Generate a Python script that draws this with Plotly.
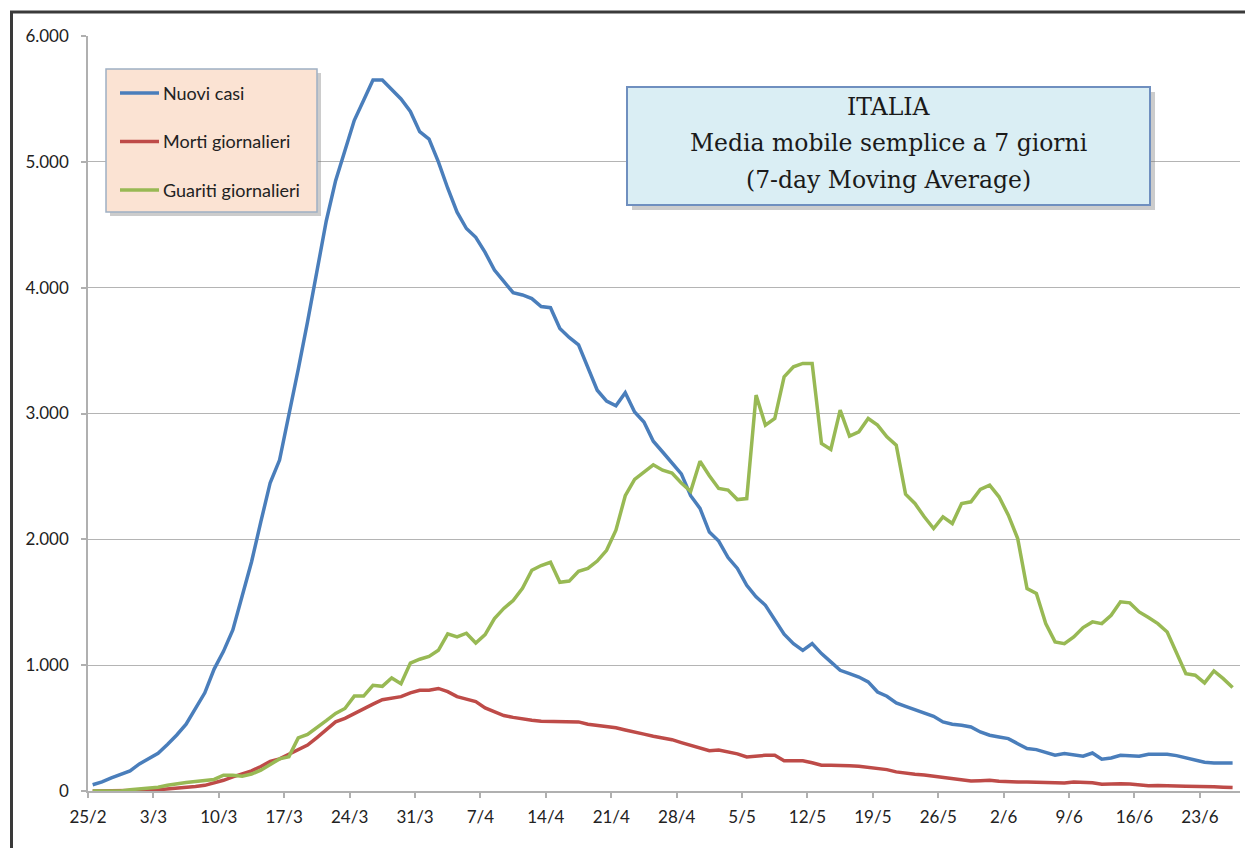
import pandas as pd
import plotly.graph_objects as go

# ---------------- data ----------------
START = "2020-02-25 12:00"
N_DAYS = 123

nuovi_casi = [50, 72, 105, 130, 160, 215, 258, 300, 370, 445,
              531, 650, 780, 969, 1110, 1280, 1540, 1820, 2140, 2450,
              2630, 2980, 3350, 3730, 4140, 4530, 4850, 5100, 5330, 5490,
              5650, 5650, 5570, 5500, 5400, 5240, 5180, 5000, 4790, 4600,
              4470, 4400, 4280, 4140, 4050, 3960, 3942, 3913, 3850, 3841,
              3676, 3604, 3546, 3358, 3185, 3098, 3061, 3165, 3012, 2933,
              2780, 2694, 2607, 2520, 2347, 2246, 2058, 1986, 1855, 1769,
              1635, 1543, 1476, 1357, 1246, 1171, 1118, 1171, 1092, 1026,
              959, 933, 906, 867, 787, 753, 700, 673, 647, 620,
              594, 549, 530, 522, 509, 469, 443, 429, 416, 376,
              337, 329, 310, 284, 297, 289, 276, 302, 252, 262,
              284, 281, 276, 292, 289, 292, 281, 262, 244, 228,
              223, 223, 223]

morti = [0, 0, 0, 0, 0, 2, 5, 10, 15, 20,
         25, 35, 45, 62, 85, 112, 135, 160, 195, 235,
         255, 290, 324, 365, 425, 490, 550, 578, 617, 650,
         690, 725, 740, 750, 780, 800, 800, 815, 790, 750,
         730, 710, 660, 630, 600, 585, 570, 562, 555, 555,
         552, 549, 549, 530, 522, 512, 503, 485, 465, 452,
         435, 420, 408, 385, 365, 345, 320, 325, 310, 295,
         270, 280, 284, 284, 240, 240, 240, 225, 205, 204,
         204, 200, 196, 186, 180, 170, 152, 140, 133, 128,
         118, 106, 95, 85, 80, 82, 85, 78, 72, 72,
         72, 70, 66, 65, 64, 72, 68, 66, 53, 56,
         58, 55, 50, 42, 44, 45, 40, 37, 37, 37,
         33, 30, 27]

guariti = [0, 0, 0, 0, 10, 15, 22, 30, 45, 58,
           68, 76, 82, 92, 125, 125, 118, 135, 165, 210,
           255, 273, 422, 449, 500, 559, 617, 656, 754, 754,
           840, 832, 898, 852, 1016, 1047, 1069, 1118, 1249, 1225,
           1254, 1176, 1243, 1370, 1451, 1514, 1610, 1754, 1792, 1818,
           1659, 1668, 1746, 1769, 1827, 1913, 2072, 2347, 2477, 2535,
           2592, 2549, 2526, 2448, 2382, 2621, 2506, 2404, 2391, 2316,
           2324, 3146, 2908, 2960, 3292, 3371, 3398, 3398, 2762, 2714,
           3027, 2820, 2854, 2960, 2908, 2815, 2748, 2359, 2285, 2179,
           2086, 2179, 2126, 2285, 2298, 2396, 2430, 2338, 2192, 2006,
           1609, 1569, 1330, 1185, 1171, 1224, 1299, 1344, 1330, 1397,
           1503, 1495, 1423, 1378, 1330, 1264, 1105, 933, 920, 859,
           954, 893, 822]

series_names = ["Nuovi casi", "Morti giornalieri", "Guariti giornalieri"]
series_colors = ["#4A7EBB", "#BE4B48", "#98B954"]

x_tick_dates = ["2020-02-25", "2020-03-03", "2020-03-10", "2020-03-17", "2020-03-24",
                "2020-03-31", "2020-04-07", "2020-04-14", "2020-04-21", "2020-04-28",
                "2020-05-05", "2020-05-12", "2020-05-19", "2020-05-26", "2020-06-02",
                "2020-06-09", "2020-06-16", "2020-06-23"]
x_tick_labels = ["25/2", "3/3", "10/3", "17/3", "24/3", "31/3", "7/4", "14/4", "21/4",
                 "28/4", "5/5", "12/5", "19/5", "26/5", "2/6", "9/6", "16/6", "23/6"]
y_tick_vals = [0, 1000, 2000, 3000, 4000, 5000, 6000]
y_tick_labels = ["0", "1.000", "2.000", "3.000", "4.000", "5.000", "6.000"]

title_lines = ["ITALIA", "Media mobile semplice a 7 giorni", "(7-day Moving Average)"]

# ---------------- figure ----------------
# the page body has an 8px margin, so the figure is 8px smaller and
# everything below is expressed in window pixels
BODY = 8
W, H = 1253 - BODY, 848 - BODY
PLOT_X0, PLOT_X1, PLOT_Y0, PLOT_Y1 = 88, 1240, 36, 791   # window px
L, T = PLOT_X0 - BODY, PLOT_Y0 - BODY
R, B = W - (PLOT_X1 - BODY), H - (PLOT_Y1 - BODY)
PW, PH = PLOT_X1 - PLOT_X0, PLOT_Y1 - PLOT_Y0


def px(x):
    return (x - PLOT_X0) / PW


def py(y):
    return (PLOT_Y1 - y) / PH


dates = pd.date_range(START, periods=N_DAYS, freq="D")

fig = go.Figure()
for name, vals, col in zip(series_names, [nuovi_casi, morti, guariti], series_colors):
    fig.add_trace(go.Scatter(x=dates, y=vals, mode="lines", name=name,
                             line=dict(color=col, width=3.5), showlegend=False))

shapes = []
annotations = []

# outer frame (right and bottom sides fall outside the picture)
shapes.append(dict(type="rect", xref="paper", yref="paper",
                   x0=px(11.5), x1=px(1275), y0=py(880), y1=py(12),
                   line=dict(color="#3a3a3a", width=3), fillcolor="rgba(0,0,0,0)", layer="above"))

# legend box with shadow
shapes.append(dict(type="rect", xref="paper", yref="paper",
                   x0=px(110), x1=px(321), y0=py(216), y1=py(73),
                   line=dict(width=0), fillcolor="rgba(110,110,110,0.35)", layer="above"))
shapes.append(dict(type="rect", xref="paper", yref="paper",
                   x0=px(106), x1=px(317), y0=py(212), y1=py(69),
                   line=dict(color="#9fb0c4", width=1.5), fillcolor="#FBE3D3", layer="above"))
for i, (name, col) in enumerate(zip(series_names, series_colors)):
    yy = 93 + i * 48.5
    shapes.append(dict(type="line", xref="paper", yref="paper",
                       x0=px(120), x1=px(159), y0=py(yy), y1=py(yy),
                       line=dict(color=col, width=3.5), layer="above"))
    annotations.append(dict(xref="paper", yref="paper", x=px(161), y=py(yy),
                            text=name, showarrow=False, xanchor="left", yanchor="middle",
                            font=dict(family="Lato", size=18, color="#222222")))

# title box with shadow
shapes.append(dict(type="rect", xref="paper", yref="paper",
                   x0=px(632), x1=px(1155), y0=py(210), y1=py(92),
                   line=dict(width=0), fillcolor="rgba(110,110,110,0.35)", layer="above"))
shapes.append(dict(type="rect", xref="paper", yref="paper",
                   x0=px(627), x1=px(1150), y0=py(205), y1=py(87),
                   line=dict(color="#6f8fbf", width=2), fillcolor="#DAEEF4", layer="above"))
for i, line in enumerate(title_lines):
    annotations.append(dict(xref="paper", yref="paper", x=px(888.5), y=py(107 + i * 36.5),
                            text=line, showarrow=False, xanchor="center", yanchor="middle",
                            font=dict(family="DejaVu Serif", size=23.5, color="#1a1a1a")))

fig.update_layout(
    width=W, height=H,
    margin=dict(l=L, r=R, t=T, b=B, pad=0),
    paper_bgcolor="white", plot_bgcolor="white",
    shapes=shapes, annotations=annotations,
    showlegend=False,
    xaxis=dict(type="date", range=["2020-02-25 00:00", "2020-06-27 07:00"],
               tickmode="array", tickvals=x_tick_dates, ticktext=x_tick_labels,
               showgrid=False, zeroline=False,
               showline=True, linecolor="#B0B0B0", linewidth=1.5,
               ticks="outside", ticklen=5, tickcolor="#B0B0B0", tickwidth=1.5,
               ticklabelstandoff=5,
               tickfont=dict(family="Lato", size=17, color="#222222")),
    yaxis=dict(range=[0, 6000], tickmode="array", tickvals=y_tick_vals, ticktext=y_tick_labels,
               showgrid=True, gridcolor="#B4B4B4", gridwidth=1.2, zeroline=False,
               showline=True, linecolor="#B0B0B0", linewidth=1.5,
               ticks="outside", ticklen=5, tickcolor="#B0B0B0", tickwidth=1.5,
               ticklabelstandoff=9,
               tickfont=dict(family="Lato", size=17, color="#222222")),
)

fig.write_html("out.html")
